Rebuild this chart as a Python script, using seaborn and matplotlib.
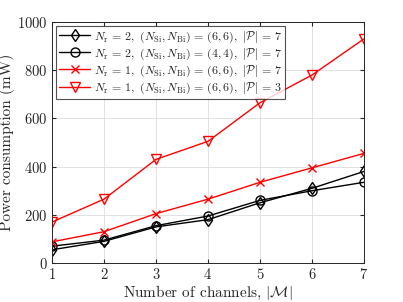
import matplotlib
matplotlib.use("Agg")
import matplotlib.pyplot as plt
import seaborn as sns
import pandas as pd

channels = [1, 2, 3, 4, 5, 6, 7]
p_nr2_66 = [55, 90, 150, 180, 250, 310, 380]
p_nr2_44 = [70, 95, 155, 195, 260, 300, 335]
p_nr1_66_p7 = [88, 130, 205, 265, 335, 395, 455]
p_nr1_66_p3 = [170, 265, 430, 505, 665, 780, 930]

labels = [
    r"$N_\mathrm{r}\,=\,2,\ (N_\mathrm{Si},N_\mathrm{Bi})\,=\,(6,6),\ |\mathcal{P}|\,=\,7$",
    r"$N_\mathrm{r}\,=\,2,\ (N_\mathrm{Si},N_\mathrm{Bi})\,=\,(4,4),\ |\mathcal{P}|\,=\,7$",
    r"$N_\mathrm{r}\,=\,1,\ (N_\mathrm{Si},N_\mathrm{Bi})\,=\,(6,6),\ |\mathcal{P}|\,=\,7$",
    r"$N_\mathrm{r}\,=\,1,\ (N_\mathrm{Si},N_\mathrm{Bi})\,=\,(6,6),\ |\mathcal{P}|\,=\,3$",
]
series = [p_nr2_66, p_nr2_44, p_nr1_66_p7, p_nr1_66_p3]
colors = ["black", "black", "red", "red"]
markers = ["d", "o", "x", "v"]
msizes = [6.5, 6.5, 5.5, 7.5]

sns.set_style("ticks")
plt.rcParams["font.family"] = "serif"
plt.rcParams["font.serif"] = ["cmr10", "DejaVu Serif"]
plt.rcParams["mathtext.fontset"] = "cm"
plt.rcParams["axes.formatter.use_mathtext"] = True

fig = plt.figure(figsize=(4.03, 3.02), dpi=100)
ax = fig.add_axes([0.129, 0.129, 0.774, 0.798])

for vals, lab, c, m, ms in zip(series, labels, colors, markers, msizes):
    df = pd.DataFrame({"M": channels, "P": vals})
    sns.lineplot(data=df, x="M", y="P", ax=ax, color=c, marker=m, markersize=ms,
                 markerfacecolor="none", markeredgecolor=c, markeredgewidth=1.0,
                 linewidth=1.0, label=lab)

ax.set_xlim(1, 7)
ax.set_ylim(0, 1000)
ax.set_xticks(channels)
ax.set_yticks([0, 200, 400, 600, 800, 1000])
ax.grid(True, color="#dddddd", linewidth=0.6)
ax.tick_params(direction="in", top=True, right=True, labelsize=10.5, length=3, pad=3)
for s in ax.spines.values():
    s.set_linewidth(0.7)
    s.set_color("#262626")
ax.set_xlabel(r"Number of channels, $|\mathcal{M}|$", fontsize=11, labelpad=1)
ax.set_ylabel("Power consumption (mW)", fontsize=11)
ax.yaxis.set_label_coords(-0.118, 0.5)
leg = ax.legend(loc="upper left", fontsize=8.6, frameon=True, fancybox=False,
                edgecolor="#262626", borderpad=0.25, labelspacing=0.15,
                handlelength=2.6, handletextpad=0.3, borderaxespad=0.35)
leg.get_frame().set_linewidth(0.8)

fig.savefig("out.png", dpi=100)
